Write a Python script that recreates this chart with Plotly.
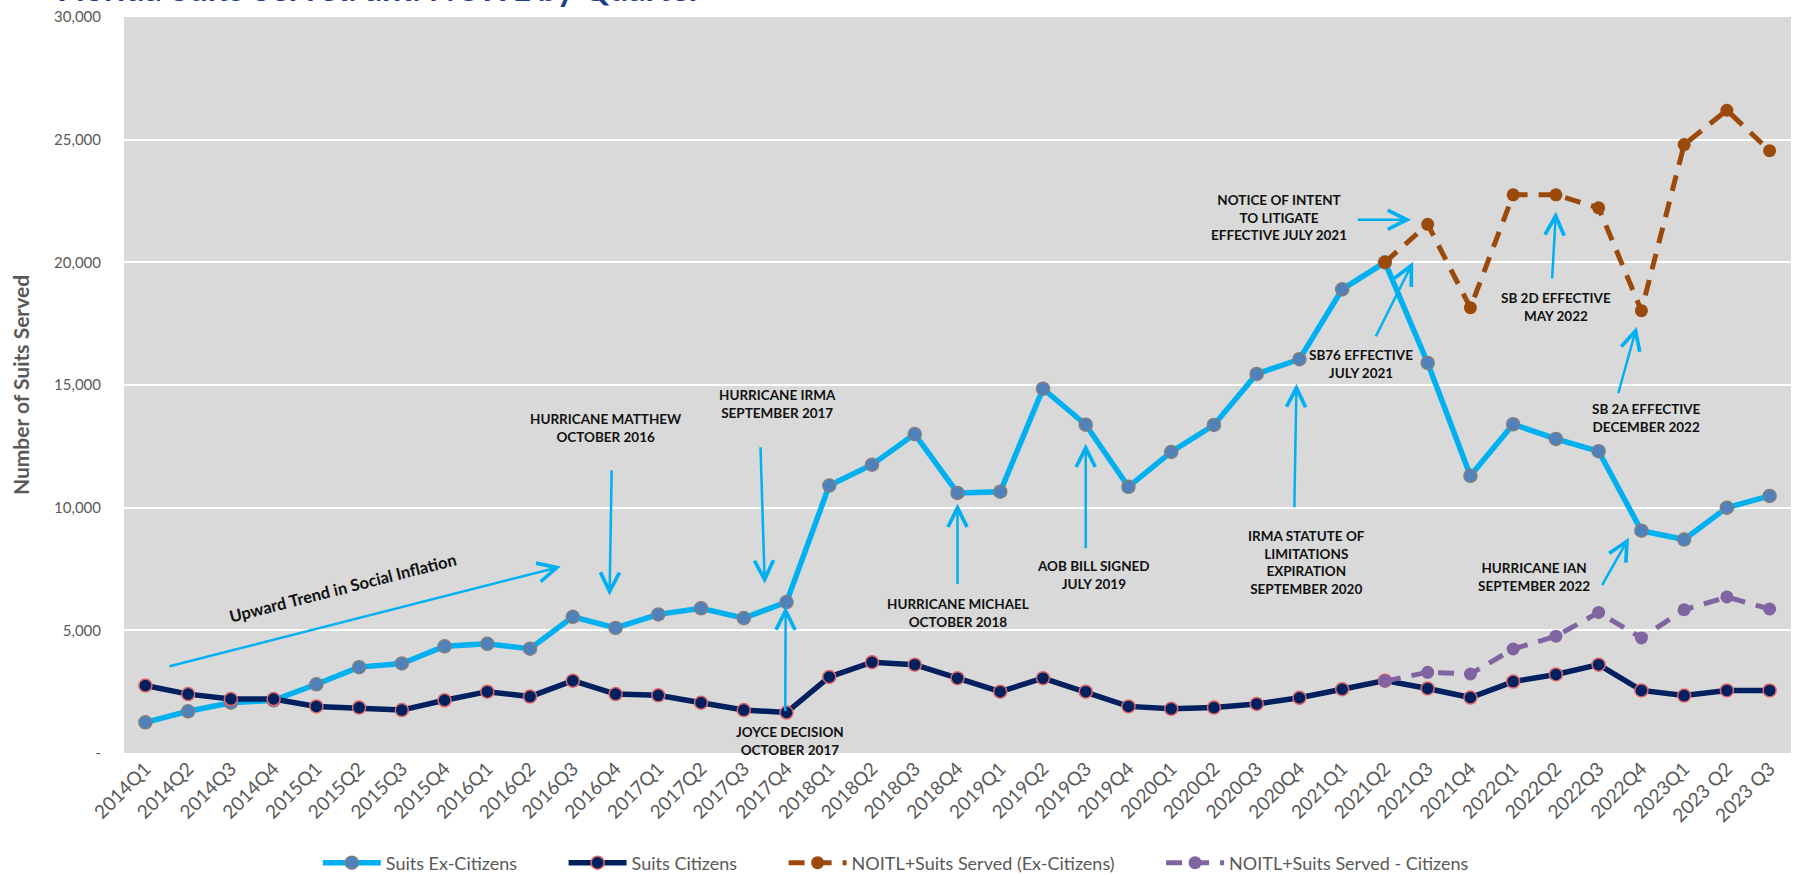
import plotly.graph_objects as go

quarters = ["2014Q1", "2014Q2", "2014Q3", "2014Q4", "2015Q1", "2015Q2", "2015Q3", "2015Q4",
            "2016Q1", "2016Q2", "2016Q3", "2016Q4", "2017Q1", "2017Q2", "2017Q3", "2017Q4",
            "2018Q1", "2018Q2", "2018Q3", "2018Q4", "2019Q1", "2019Q2", "2019Q3", "2019Q4",
            "2020Q1", "2020Q2", "2020Q3", "2020Q4", "2021Q1", "2021Q2", "2021Q3", "2021Q4",
            "2022Q1", "2022Q2", "2022Q3", "2022Q4", "2023Q1", "2023 Q2", "2023 Q3"]

suits_ex_citizens = [1250, 1700, 2050, 2150, 2800, 3500, 3650, 4350,
                     4450, 4250, 5550, 5100, 5650, 5900, 5500, 6150,
                     10900, 11750, 13000, 10600, 10650, 14850, 13380, 10850,
                     12270, 13370, 15450, 16050, 18900, 20000, 15900, 11300,
                     13400, 12800, 12300, 9060, 8700, 10000, 10480]

suits_citizens = [2750, 2400, 2200, 2200, 1900, 1850, 1750, 2150,
                  2500, 2300, 2950, 2400, 2350, 2050, 1750, 1650,
                  3100, 3700, 3600, 3050, 2500, 3050, 2500, 1900,
                  1800, 1850, 2000, 2250, 2600, 2950, 2630, 2260,
                  2910, 3200, 3600, 2550, 2340, 2550, 2550]

noitl_quarters = quarters[29:]
noitl_ex_citizens = [20000, 21550, 18150, 22750, 22750, 22220, 18030, 24800, 26200, 24550]
noitl_citizens = [2930, 3290, 3220, 4240, 4760, 5730, 4690, 5840, 6360, 5870]

y_ticks = [0, 5000, 10000, 15000, 20000, 25000, 30000]
y_ticktext = ["-", "5,000", "10,000", "15,000", "20,000", "25,000", "30,000"]

series_names = ["Suits Ex-Citizens", "Suits Citizens",
                "NOITL+Suits Served (Ex-Citizens)", "NOITL+Suits Served - Citizens"]

# annotation label texts with (x index, y value) of their centres
notes = [
    ("HURRICANE MATTHEW<br>OCTOBER 2016", 10.77, 13259),
    ("HURRICANE IRMA<br>SEPTEMBER 2017", 14.79, 14236),
    ("JOYCE DECISION<br>OCTOBER 2017", 15.07, 509),
    ("HURRICANE MICHAEL<br>OCTOBER 2018", 19.0, 5723),
    ("AOB BILL SIGNED<br>JULY 2019", 22.18, 7271),
    ("IRMA STATUTE OF<br>LIMITATIONS<br>EXPIRATION<br>SEPTEMBER 2020", 27.16, 7760),
    ("SB76 EFFECTIVE<br>JULY 2021", 28.45, 15866),
    ("NOTICE OF INTENT<br>TO LITIGATE<br>EFFECTIVE JULY 2021", 26.53, 21813),
    ("SB 2D EFFECTIVE<br>MAY 2022", 33.0, 18187),
    ("SB 2A EFFECTIVE<br>DECEMBER 2022", 35.13, 13666),
    ("HURRICANE IAN<br>SEPTEMBER 2022", 32.49, 7189),
]
# arrows: tail (x index, value) -> tip (x index, value)
arrows = [
    (0.53, 3523, 9.72, 7597),
    (10.91, 11589, 10.86, 6415),
    (14.39, 12525, 14.49, 6904),
    (14.97, 1650, 14.98, 5967),
    (19.0, 6823, 19.0, 10163),
    (22.0, 8289, 22.0, 12607),
    (26.88, 9959, 26.93, 15051),
    (28.77, 16925, 29.66, 20020),
    (28.33, 21731, 29.61, 21731),
    (32.91, 19287, 33.0, 22057),
    (34.45, 14603, 34.89, 17373),
    (34.06, 6782, 34.71, 8778),
]

FONT = "Lato"
GREY = "#595959"
ARROW = "#00B0F0"
PAD = "\u00a0" * 9

fig = go.Figure()
fig.add_trace(go.Scatter(
    x=quarters, y=suits_ex_citizens, name=series_names[0] + PAD, mode="lines+markers",
    line=dict(color="#00B0F0", width=5.5),
    marker=dict(size=13, color="#4F81BD", line=dict(color="#7F7F7F", width=1.5))))
fig.add_trace(go.Scatter(
    x=quarters, y=suits_citizens, name=series_names[1] + PAD, mode="lines+markers",
    line=dict(color="#002060", width=5.5),
    marker=dict(size=13, color="#002060", line=dict(color="#E06666", width=1.5))))
fig.add_trace(go.Scatter(
    x=noitl_quarters, y=noitl_ex_citizens, name=series_names[2] + PAD, mode="lines+markers",
    line=dict(color="#9C4A0C", width=5, dash="16px,11px"),
    marker=dict(size=13, color="#9C4A0C")))
fig.add_trace(go.Scatter(
    x=noitl_quarters, y=noitl_citizens, name=series_names[3], mode="lines+markers",
    line=dict(color="#8064A2", width=5, dash="16px,11px"),
    marker=dict(size=13, color="#8064A2")))

annotations = []
for ax_, ay_, x_, y_ in arrows:
    annotations.append(dict(x=x_, y=y_, ax=ax_, ay=ay_, xref="x", yref="y", axref="x", ayref="y",
                            text="", showarrow=True, arrowhead=5, arrowsize=1.5, arrowwidth=2.5,
                            arrowcolor=ARROW, standoff=0, startstandoff=0))
for txt, x_, y_ in notes:
    annotations.append(dict(x=x_, y=y_, xref="x", yref="y", text="<b>" + txt + "</b>", showarrow=False,
                            font=dict(family=FONT, size=13.5, color="#111111"), align="center",
                            xanchor="center", yanchor="middle"))
annotations.append(dict(x=4.62, y=6741, xref="x", yref="y", text="<b>Upward Trend in Social Inflation</b>",
                        showarrow=False, textangle=-14.3,
                        font=dict(family=FONT, size=16.5, color="#111111")))
annotations.append(dict(x=0.3477, y=1.0095, xref="paper", yref="paper",
                        text="<b>Florida Suits Served and NOITL by Quarter</b>", showarrow=False,
                        xanchor="right", yanchor="bottom",
                        font=dict(family=FONT, size=34, color="#1F3C88")))

fig.update_layout(
    width=1795, height=875,
    margin=dict(l=124, r=4, t=17, b=122),
    paper_bgcolor="white", plot_bgcolor="#D9D9D9",
    font=dict(family=FONT, color=GREY),
    showlegend=True,
    legend=dict(orientation="h", x=0.463, xanchor="center", yref="container", y=0.0137,
                yanchor="middle", font=dict(family=FONT, size=18, color=GREY), itemwidth=58,
                bgcolor="rgba(0,0,0,0)"),
    annotations=annotations,
)
fig.update_xaxes(type="category", categoryorder="array", categoryarray=quarters,
                 tickangle=-45, tickfont=dict(family=FONT, size=19, color=GREY),
                 showgrid=False, showline=False, zeroline=False, automargin=False,
                 range=[-0.5, len(quarters) - 0.5])
fig.update_yaxes(range=[0, 30000], tickvals=y_ticks, ticktext=y_ticktext,
                 tickfont=dict(family=FONT, size=15, color=GREY),
                 gridcolor="white", gridwidth=2, zeroline=False, showline=False,
                 ticklabelstandoff=22, automargin=False,
                 title=dict(text="<b>Number of Suits Served</b>", standoff=18,
                            font=dict(family=FONT, size=21, color=GREY)))

fig.write_html("out.html", config={"displayModeBar": False},
               post_script="document.body.style.margin='0';document.body.style.overflow='hidden';")
